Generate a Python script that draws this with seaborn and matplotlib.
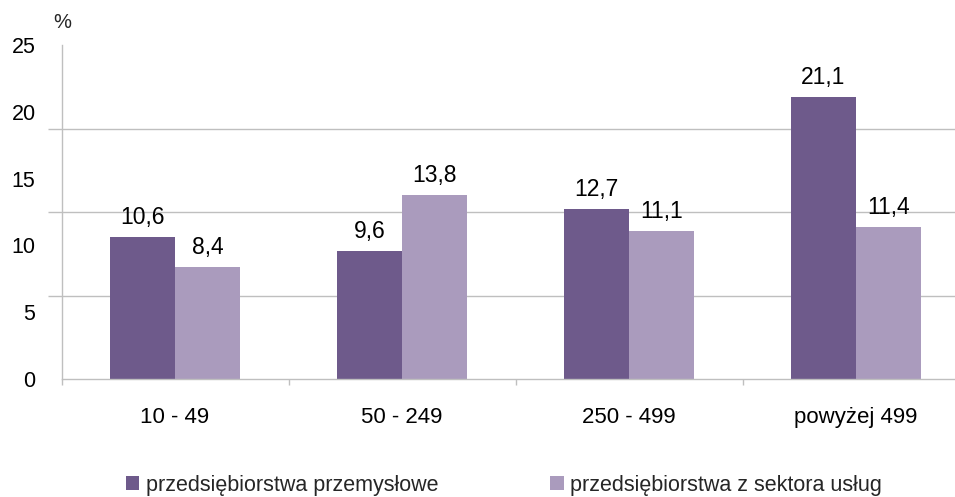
import matplotlib
matplotlib.use("Agg")
import matplotlib.pyplot as plt
import matplotlib.patches as mpatches
import numpy as np
import pandas as pd
import seaborn as sns

# Data: share of enterprises by size class (number of employees)
categories = ["10 - 49", "50 - 249", "250 - 499", "powyżej 499"]
series_names = ["przedsiębiorstwa przemysłowe", "przedsiębiorstwa z sektora usług"]
industry = [10.6, 9.6, 12.7, 21.1]
services = [8.4, 13.8, 11.1, 11.4]
y_labels = [0, 5, 10, 15, 20, 25]

colors = ["#6E5A8B", "#AA9BBD"]
grid_color = "#BFBFBF"

df = pd.DataFrame({
    "kategoria": categories * 2,
    "wartosc": industry + services,
    "seria": [series_names[0]] * 4 + [series_names[1]] * 4,
})

sns.set_theme(style="white")
plt.rcParams["font.family"] = ["Liberation Sans", "DejaVu Sans"]

W, H, DPI = 955, 497, 100
fig = plt.figure(figsize=(W / DPI, H / DPI), dpi=DPI)
px = 72 / DPI  # points per pixel

ax = fig.add_axes([61.5 / W, 118 / H, 908 / W, 334 / H])

sns.barplot(data=df, x="kategoria", y="wartosc", hue="seria",
            order=categories, hue_order=series_names,
            palette=colors, saturation=1, width=0.573, gap=0,
            linewidth=0, edgecolor="none",
            legend=False, ax=ax)

ax.set_xlim(-0.5, len(categories) - 0.5)
ax.set_ylim(0, 25)
ax.set_xlabel("")
ax.set_ylabel("")

# Value labels above each bar
for container in ax.containers:
    for bar in container:
        h = bar.get_height()
        ax.annotate(f"{h:.1f}".replace(".", ","),
                    (bar.get_x() + bar.get_width() / 2, h),
                    xytext=(0, 13 * px), textcoords="offset points",
                    ha="center", va="baseline", fontsize=16.5, color="#000000")

# Y axis: labels every 5, gridlines and tick marks every 6.25
ax.set_yticks(y_labels)
ax.set_yticklabels([str(v) for v in y_labels])
ax.set_yticks(np.linspace(0, 25, 5), minor=True)
ax.tick_params(axis="y", which="major", length=0, pad=26 * px,
               labelsize=15.5, labelcolor="#000000")
ax.tick_params(axis="y", which="minor", length=14 * px, width=1,
               color=grid_color, direction="out", left=True)
ax.grid(False)
ax.yaxis.grid(True, which="minor", color=grid_color, linewidth=1)

# X axis: labels at category centres, tick marks between categories
ax.set_xticks(range(len(categories)))
ax.set_xticklabels(categories)
ax.set_xticks(np.arange(-0.5, len(categories), 1.0), minor=True)
ax.tick_params(axis="x", which="major", length=0, pad=28 * px,
               labelsize=16, labelcolor="#000000")
ax.tick_params(axis="x", which="minor", length=6 * px, width=1,
               color=grid_color, direction="out", bottom=True)

for side in ["top", "right"]:
    ax.spines[side].set_visible(False)
for side in ["left", "bottom"]:
    ax.spines[side].set_color(grid_color)
    ax.spines[side].set_linewidth(1)

ax.set_axisbelow(True)

fig.text(62 / W, 1 - 22 / H, "%", ha="center", va="center", fontsize=14.5)

handles = [mpatches.Patch(facecolor=c, edgecolor="none", label=n)
           for c, n in zip(colors, series_names)]
fig.legend(handles=handles, loc="lower left", ncol=2,
           bbox_to_anchor=(126 / W, 1 / H), frameon=False,
           fontsize=15.5, handlelength=0.62, handleheight=0.62,
           handletextpad=0.3, columnspacing=5.2, borderpad=0,
           borderaxespad=0)

fig.savefig("out.png", dpi=DPI)
